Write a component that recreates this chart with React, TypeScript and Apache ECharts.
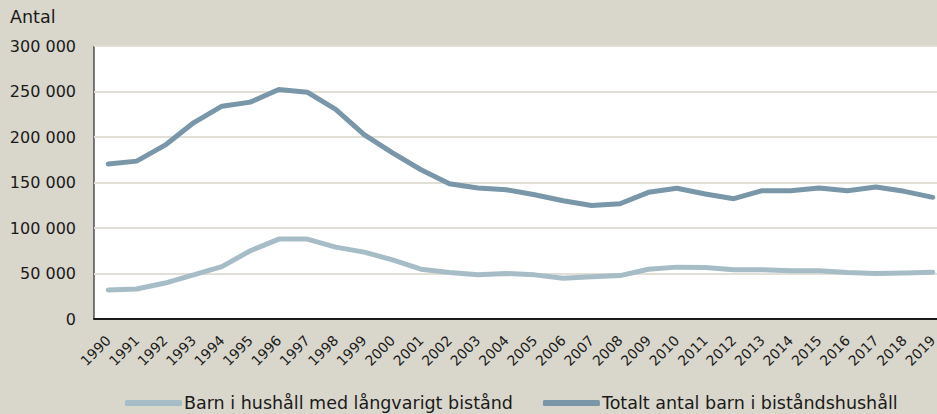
import React, { useEffect, useRef } from "react";
import * as echarts from "echarts";

const years = [
  "1990","1991","1992","1993","1994","1995","1996","1997","1998","1999",
  "2000","2001","2002","2003","2004","2005","2006","2007","2008","2009",
  "2010","2011","2012","2013","2014","2015","2016","2017","2018","2019",
];

const longTerm = [
  32000, 33000, 39500, 48500, 57600, 75000, 87800, 87800, 79000, 73500,
  65000, 54700, 51000, 48500, 50000, 48500, 44800, 46300, 47700, 54700,
  57000, 56500, 54000, 54000, 52900, 52900, 51000, 49900, 50500, 51400,
];

const total = [
  170400, 173500, 191000, 215600, 233900, 238300, 252300, 249300, 230300, 202700,
  182500, 164000, 148700, 144000, 142000, 136600, 130000, 124800, 126700, 139200,
  143600, 137300, 132200, 141000, 141000, 144000, 141000, 145000, 140300, 133700,
];

const seriesNames = [
  "Barn i hushåll med långvarigt bistånd",
  "Totalt antal barn i biståndshushåll",
];

const yTicks = [0, 50000, 100000, 150000, 200000, 250000, 300000];

const FONT = "'DejaVu Sans', sans-serif";

export default function App() {
  const ref = useRef<HTMLDivElement>(null);

  useEffect(() => {
    document.body.style.margin = "0";
    if (!ref.current) return;
    const chart = echarts.init(ref.current, null, { renderer: "svg" });
    chart.setOption({
      animation: false,
      backgroundColor: "#d9d7cb",
      textStyle: { fontFamily: FONT },
      graphic: [
        {
          type: "text",
          left: 10,
          top: 8,
          style: { text: "Antal", font: `17.5px ${FONT}`, fill: "#1a1a1a" },
        },
      ],
      legend: {
        left: 125,
        top: 394,
        padding: 0,
        itemWidth: 57,
        itemHeight: 6,
        itemGap: 30,
        icon: "roundRect",
        textStyle: { fontSize: 17.5, color: "#1a1a1a", fontFamily: FONT, padding: [0, 0, 0, -3], lineHeight: 18 },
        data: seriesNames,
      },
      grid: {
        left: 94,
        top: 46,
        right: -10,
        bottom: 95,
        show: true,
        backgroundColor: "#ffffff",
        borderColor: "#000000",
        borderWidth: 1,
        outerBoundsMode: "none",
        containLabel: false,
      },
      xAxis: {
        type: "category",
        data: years,
        boundaryGap: true,
        axisLine: { lineStyle: { color: "#1a1a1a", width: 2 } },
        axisTick: { inside: true, length: 5, lineStyle: { color: "#1a1a1a", width: 1 } },
        axisLabel: {
          interval: 0,
          rotate: 45,
          margin: 19,
          fontSize: 14,
          color: "#1a1a1a",
          fontFamily: FONT,
        },
      },
      yAxis: {
        type: "value",
        min: yTicks[0],
        max: yTicks[yTicks.length - 1],
        interval: 50000,
        axisLine: { show: false },
        axisTick: { show: false },
        axisLabel: {
          margin: 18,
          fontSize: 16,
          color: "#1a1a1a",
          fontFamily: FONT,
          formatter: (v: number) => (v === 0 ? "0" : `${Math.round(v / 1000)} 000`),
        },
        splitLine: { lineStyle: { color: "#e2dfd6", width: 2 } },
      },
      series: [
        {
          name: seriesNames[0],
          type: "line",
          data: longTerm,
          symbol: "none",
          color: "#a6bdc8",
          lineStyle: { width: 5, color: "#a6bdc8", cap: "round", join: "round" },
        },
        {
          name: seriesNames[1],
          type: "line",
          data: total,
          symbol: "none",
          color: "#7997a8",
          lineStyle: { width: 5, color: "#7997a8", cap: "round", join: "round" },
        },
      ],
    });
    return () => chart.dispose();
  }, []);

  return <div ref={ref} style={{ width: 937, height: 414 }} />;
}
